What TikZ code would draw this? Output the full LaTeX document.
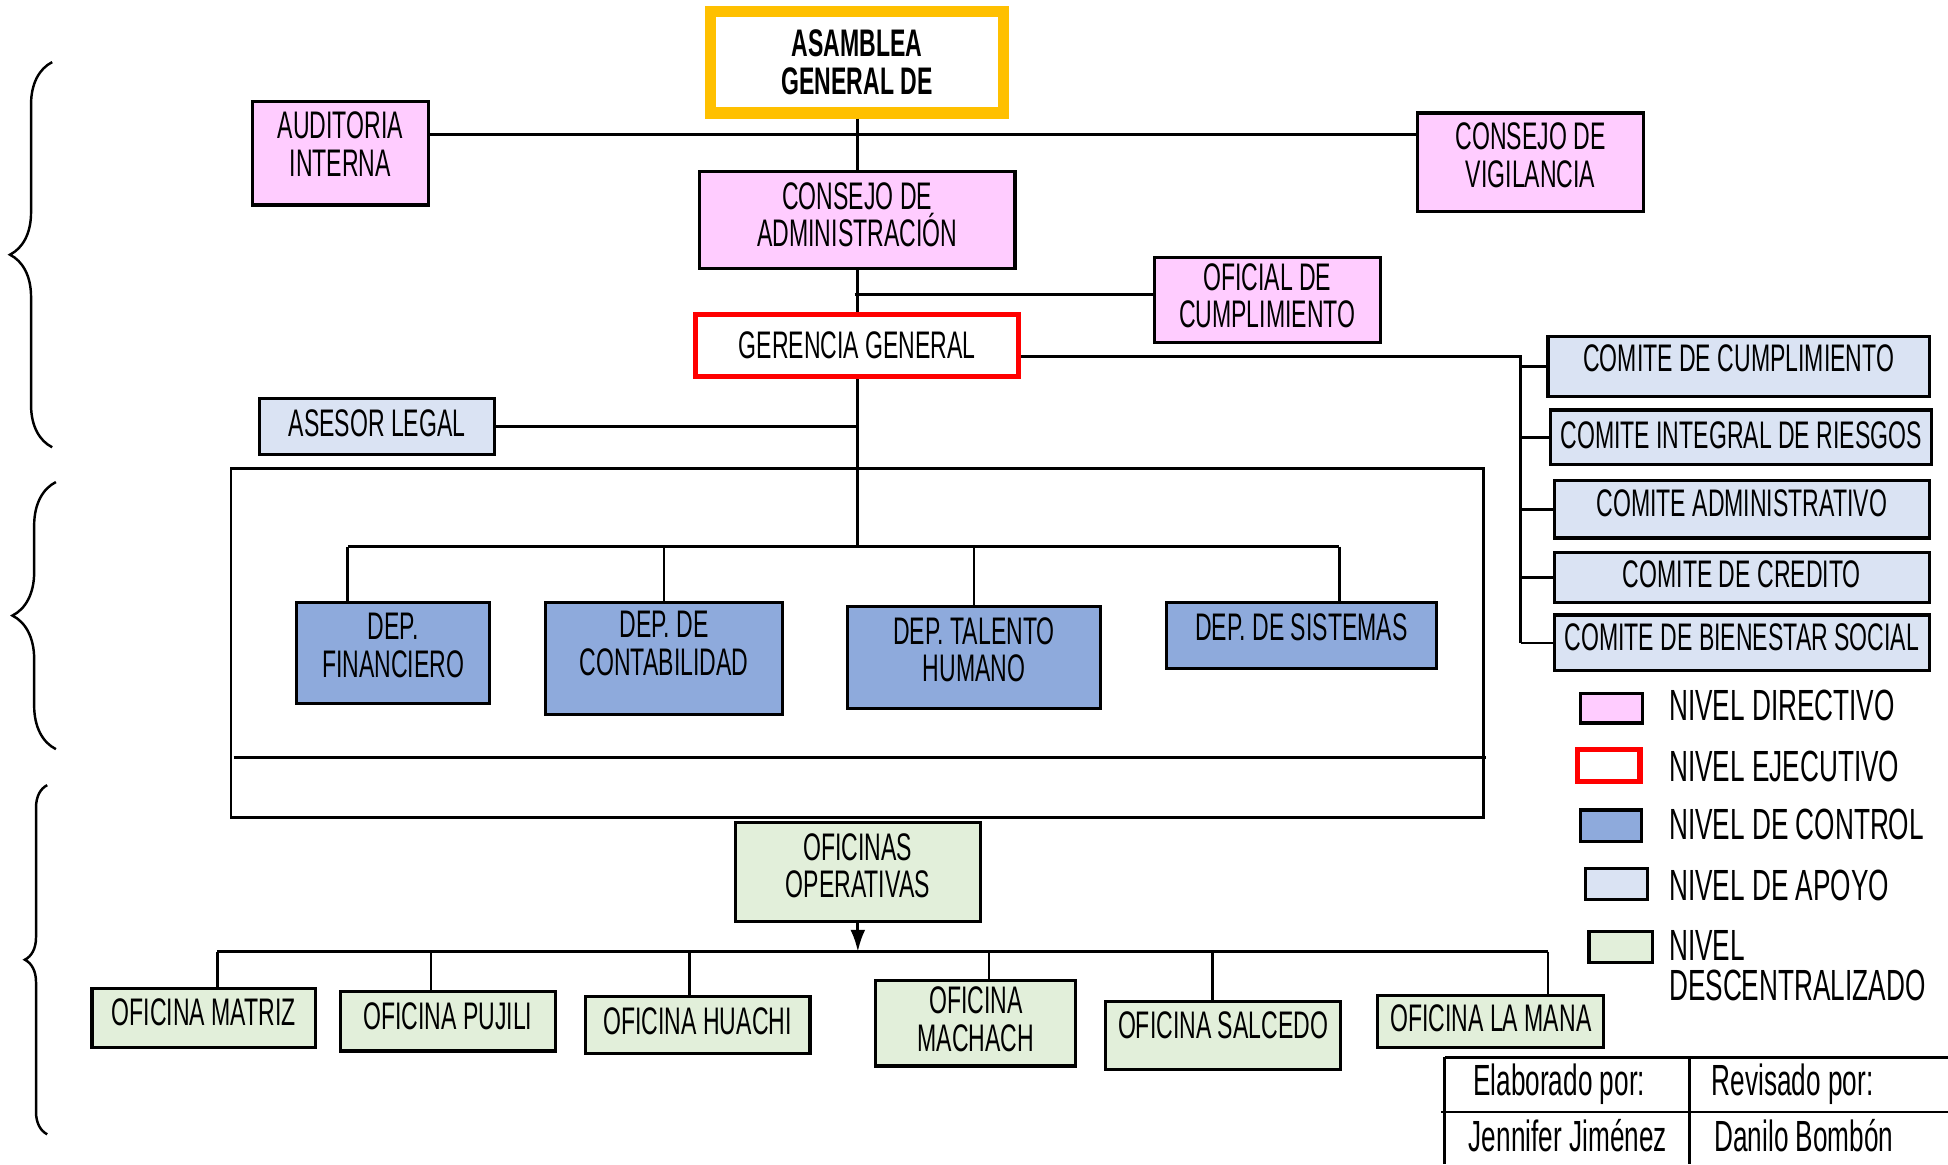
\documentclass[tikz,border=0pt]{standalone}
\usepackage{fontspec}
\usepackage{tikz}
\usetikzlibrary{arrows,arrows.meta,shapes,positioning,decorations.pathreplacing}
\newfontfamily\orgfont{Liberation Sans}[FakeStretch=0.6]
\newcommand\orgtxt{\orgfont\fontsize{11}{10.7}\selectfont}
\newcommand\legtxt{\orgfont\fontsize{12.5}{11.5}\selectfont}
\definecolor{nvpink}{RGB}{255,204,255}
\definecolor{nvcontrol}{RGB}{142,170,220}
\definecolor{nvapoyo}{RGB}{218,227,243}
\definecolor{nvdescen}{RGB}{226,239,218}
\definecolor{nvorange}{RGB}{255,192,0}
\newlength\un
\setlength\un{0.125mm}
\tikzstyle{directivo} = [rectangle, draw=black, fill=nvpink, line width=0.9pt, align=center, font=\orgtxt, inner sep=0pt]
\tikzstyle{ejecutivo} = [rectangle, draw=red, fill=white, line width=1.5pt, align=center, font=\orgtxt, inner sep=0pt]
\tikzstyle{control} = [rectangle, draw=black, fill=nvcontrol, line width=0.9pt, align=center, font=\orgtxt, inner sep=0pt]
\tikzstyle{apoyo} = [rectangle, draw=black, fill=nvapoyo, line width=0.9pt, align=center, font=\orgtxt, inner sep=0pt]
\tikzstyle{descen} = [rectangle, draw=black, fill=nvdescen, line width=0.9pt, align=center, font=\orgtxt, inner sep=0pt]
\tikzstyle{asamblea} = [rectangle, draw=nvorange, fill=white, line width=3.2pt, align=center, font=\orgtxt\bfseries, inner sep=0pt]
\tikzstyle{lbl} = [align=center, font=\orgtxt, inner sep=0pt]
\tikzstyle{leglbl} = [anchor=west, align=left, font=\legtxt, inner sep=0pt]
\tikzstyle{link} = [line width=0.8pt]
\tikzstyle{arrow} = [line width=0.8pt,-{Latex[length=2.2mm,width=1.5mm]}]
\tikzstyle{nivelbrace} = [decorate, line width=0.7pt]

\begin{document}
\begin{tikzpicture}[x=0.125mm, y=-0.125mm]
\useasboundingbox (0,0) rectangle (1568,937);

% Braces for the levels
\draw[nivelbrace, decoration={brace, amplitude=34\un}] (42,360) -- (42,50);
\draw[nivelbrace, decoration={brace, amplitude=35\un}] (45,603) -- (45,388);
\draw[nivelbrace, decoration={brace, amplitude=18\un}] (38,913) -- (38,632);

% Directive level
\node (asamblea) [asamblea, minimum width=236\un, minimum height=82\un] at (690,50) {ASAMBLEA\\GENERAL DE};
\node (auditoria) [directivo, minimum width=142\un, minimum height=83\un] at (274,123.5) {};
\node[lbl] at (274,116) {AUDITORIA\\INTERNA};
\node (vigilancia) [directivo, minimum width=182\un, minimum height=79\un] at (1232,130.5) {};
\node[lbl] at (1232,125) {CONSEJO DE\\VIGILANCIA};
\node (consejo) [directivo, minimum width=254\un, minimum height=78\un] at (690,177) {};
\node[lbl] at (690,173) {CONSEJO DE\\ADMINISTRACIÓN};
\node (oficial) [directivo, minimum width=182\un, minimum height=69\un] at (1020,241.5) {};
\node[lbl] at (1020,238) {OFICIAL DE\\CUMPLIMIENTO};

\coordinate (top) at (688,108);
\draw[link] (asamblea.south) -- (consejo.north);
\draw[link] (auditoria.east |- top) -- (vigilancia.west |- top);

% Executive level
\node (gerencia) [ejecutivo, minimum width=260\un, minimum height=50\un] at (690,278) {GERENCIA GENERAL};
\coordinate (ofj) at (688,237);
\draw[link] (consejo.south) -- (gerencia.north);
\draw[link] (ofj) -- (ofj -| oficial.west);

% Support
\node (asesor) [apoyo, minimum width=189\un, minimum height=45\un] at (303.5,343.5) {};
\node[lbl] at (303.5,341) {ASESOR LEGAL};
\draw[link] (asesor.east) -- (asesor.east -| gerencia.south);

% Committees
\node (com1) [apoyo, minimum width=307\un, minimum height=48\un] at (1399.5,295) {};
\node[lbl] at (1399.5,288) {COMITE DE CUMPLIMIENTO};
\node (com2) [apoyo, minimum width=307\un, minimum height=44\un] at (1401.5,352) {};
\node[lbl] at (1401.5,350) {COMITE INTEGRAL DE RIESGOS};
\node (com3) [apoyo, minimum width=302\un, minimum height=46\un] at (1402,410) {};
\node[lbl] at (1402,405) {COMITE ADMINISTRATIVO};
\node (com4) [apoyo, minimum width=302\un, minimum height=40\un] at (1402,465) {};
\node[lbl] at (1402,462) {COMITE DE CREDITO};
\node (com5) [apoyo, minimum width=302\un, minimum height=45\un] at (1402,517.5) {};
\node[lbl] at (1402,513) {COMITE DE BIENESTAR SOCIAL};

\coordinate (cbus) at (1224,287);
\draw[link] (cbus -| gerencia.east) -- (cbus) -- (cbus |- com5.west);
\foreach \c in {com1,com2,com3,com4,com5}
  \draw[link] (cbus |- \c.west) -- (\c.west);

% Control level
\draw[link] (186,377) rectangle (1194,658);
\draw[link] (188,610) -- (1196,610);
\node (financiero) [control, minimum width=155\un, minimum height=81\un] at (316.5,525.5) {};
\node[lbl] at (316.5,519.5) {DEP.\\FINANCIERO};
\node (contab) [control, minimum width=191\un, minimum height=90\un] at (534.5,530) {};
\node[lbl] at (534.5,518) {DEP. DE\\CONTABILIDAD};
\node (talento) [control, minimum width=204\un, minimum height=82\un] at (784,529) {};
\node[lbl] at (784,523) {DEP. TALENTO\\HUMANO};
\node (sistemas) [control, minimum width=217\un, minimum height=53\un] at (1047.5,511.5) {};
\node[lbl] at (1047.5,505) {DEP. DE SISTEMAS};

\coordinate (dl) at (280,440);
\coordinate (dr) at (1078,440);
\draw[link] (gerencia.south) -- (gerencia.south |- dl);
\draw[link] (dl) -- (dr);
\draw[link] (dl) -- (dl |- financiero.north);
\draw[link] (contab.north |- dl) -- (contab.north);
\draw[link] (talento.north |- dl) -- (talento.north);
\draw[link] (dr) -- (dr |- sistemas.north);

% Decentralized level
\node (oficinas) [descen, minimum width=197\un, minimum height=80\un] at (690.5,702) {};
\node[lbl] at (690.5,697) {OFICINAS\\OPERATIVAS};
\node (matriz) [descen, minimum width=180\un, minimum height=47\un] at (164,819.5) {};
\node[lbl] at (164,815) {OFICINA MATRIZ};
\node (pujili) [descen, minimum width=173\un, minimum height=48\un] at (360.5,822) {};
\node[lbl] at (360.5,818) {OFICINA PUJILI};
\node (huachi) [descen, minimum width=181\un, minimum height=46\un] at (561.5,825) {};
\node[lbl] at (561.5,822) {OFICINA HUACHI};
\node (machach) [descen, minimum width=161\un, minimum height=69\un] at (785.5,823.5) {};
\node[lbl] at (785.5,820.5) {OFICINA\\MACHACH};
\node (salcedo) [descen, minimum width=189\un, minimum height=55\un] at (984.5,833.5) {};
\node[lbl] at (984.5,825) {OFICINA SALCEDO};
\node (lamana) [descen, minimum width=182\un, minimum height=42\un] at (1200,822) {};
\node[lbl] at (1200,820) {OFICINA LA MANA};

\coordinate (ol) at (175,766);
\coordinate (or) at (1246,766);
\coordinate (o2) at (347,766);
\coordinate (o3) at (555,766);
\coordinate (o4) at (796,766);
\coordinate (o5) at (976,766);
\draw[arrow] (oficinas.south) -- (oficinas.south |- ol);
\draw[link] (ol) -- (or);
\draw[link] (ol) -- (ol |- matriz.north);
\draw[link] (o2) -- (o2 |- pujili.north);
\draw[link] (o3) -- (o3 |- huachi.north);
\draw[link] (o4) -- (o4 |- machach.north);
\draw[link] (o5) -- (o5 |- salcedo.north);
\draw[link] (or) -- (or |- lamana.north);

% Legend
\node (leg1) [directivo, minimum width=50\un, minimum height=24\un] at (1297,570) {};
\node[leglbl] at (1343,568) {NIVEL DIRECTIVO};
\node (leg2) [ejecutivo, minimum width=50\un, minimum height=26\un] at (1295,616) {};
\node[leglbl] at (1343,617) {NIVEL EJECUTIVO};
\node (leg3) [control, minimum width=49\un, minimum height=25\un] at (1296.5,664.5) {};
\node[leglbl] at (1343,664) {NIVEL DE CONTROL};
\node (leg4) [apoyo, minimum width=50\un, minimum height=25\un] at (1301,711.5) {};
\node[leglbl] at (1343,713) {NIVEL DE APOYO};
\node (leg5) [descen, minimum width=51\un, minimum height=25\un] at (1304.5,762.5) {};
\node[leglbl] at (1343,777) {NIVEL\\DESCENTRALIZADO};

% Signatures
\draw[link] (1163,851) -- (1568,851);
\draw[link] (1163,851) -- (1163,937);
\draw[link] (1160,895) -- (1568,895);
\draw[link] (1360,851) -- (1360,937);
\node[lbl, font=\legtxt] at (1255,873) {Elaborado por:};
\node[lbl, font=\legtxt] at (1443,873) {Revisado por:};
\node[lbl, font=\legtxt] at (1262,914) {Jennifer Jiménez};
\node[lbl, font=\legtxt] at (1452,914) {Danilo Bombón};
\end{tikzpicture}
\end{document}
